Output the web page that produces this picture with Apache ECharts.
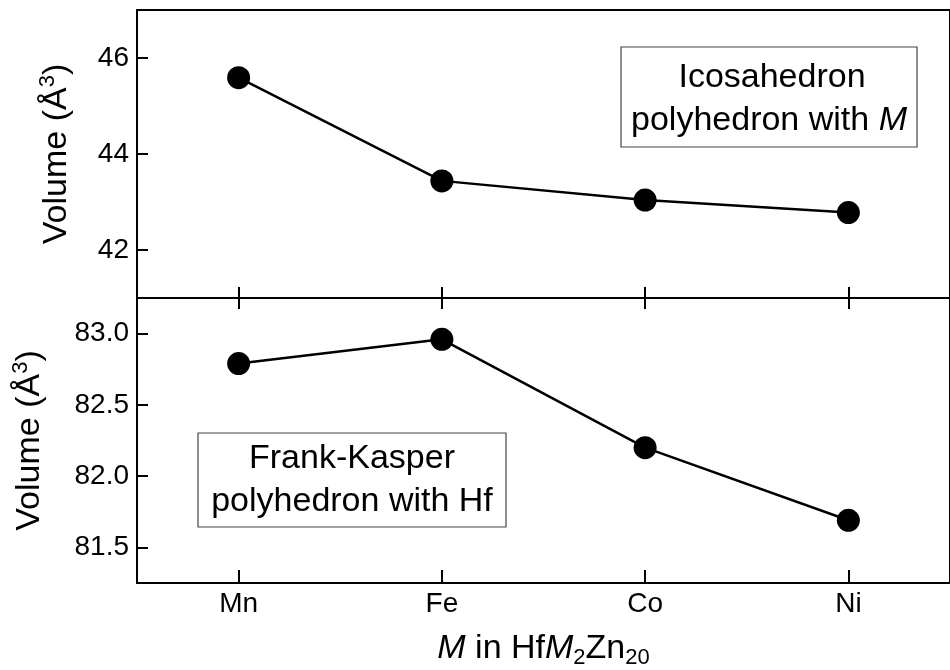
<!DOCTYPE html>
<html>
<head>
<meta charset="utf-8">
<script src="https://cdn.jsdelivr.net/npm/echarts@6/dist/echarts.min.js"></script>
<style>html,body{margin:0;padding:0;background:#fff}#c{width:950px;height:670px}</style>
</head>
<body>
<div id="c"></div>
<script>
const categories = ['Mn', 'Fe', 'Co', 'Ni'];
const icosaVolume = [45.59, 43.44, 43.04, 42.78];
const frankKasperVolume = [82.79, 82.96, 82.20, 81.69];
const topTicks = [42, 44, 46];
const bottomTicks = [81.5, 82.0, 82.5, 83.0];
const topRange = [41, 47];
const bottomRange = [81.25, 83.25];

const FONT = 'Liberation Sans, Arial, sans-serif';
const lineStyle = { color: '#000', width: 2 };

const chart = echarts.init(document.getElementById('c'), null, { renderer: 'canvas' });

function xAx(gridIndex, position, opts) {
  return Object.assign({
    type: 'category', data: categories, gridIndex, position,
    boundaryGap: true,
    axisLine: { show: true, onZero: false, lineStyle },
    axisTick: { show: false },
    axisLabel: { show: false },
    splitLine: { show: false }
  }, opts);
}

const yName = {
  color: '#000', fontSize: 34, fontFamily: FONT,
  rich: {
    n: { fontSize: 34, fontFamily: FONT, color: '#000' },
    sup: { fontSize: 22, fontFamily: FONT, color: '#000', padding: [0, 0, 18, 0] }
  }
};

const option = {
  animation: false,
  backgroundColor: '#fff',
  grid: [
    { left: 137, top: 10, width: 825, height: 288 },
    { left: 137, top: 298, width: 825, height: 289 }
  ],
  xAxis: [
    xAx(0, 'bottom', { axisTick: { show: true, inside: true, alignWithLabel: true, length: 11, lineStyle } }),
    xAx(0, 'top'),
    xAx(1, 'bottom', {
      axisTick: { show: true, inside: true, alignWithLabel: true, length: 13, lineStyle },
      axisLabel: { show: true, color: '#000', fontSize: 28, fontFamily: FONT, margin: 7 },
      name: '{i|M} in Hf{i|M}{sub|2}Zn{sub|20}',
      nameLocation: 'middle', nameGap: 46,
      nameTextStyle: {
        color: '#000', fontSize: 34, fontFamily: FONT,
        rich: {
          i: { fontStyle: 'italic', fontSize: 34, fontFamily: FONT, color: '#000' },
          sub: { fontSize: 22, fontFamily: FONT, color: '#000', padding: [18, 0, 0, 0] }
        }
      }
    }),
    xAx(1, 'top', { axisTick: { show: true, inside: true, alignWithLabel: true, length: 11, lineStyle } })
  ],
  yAxis: [
    {
      type: 'value', gridIndex: 0, position: 'left', min: topRange[0], max: topRange[1],
      axisLine: { show: true, onZero: false, lineStyle },
      axisTick: { show: true, inside: true, length: 11, lineStyle, customValues: topTicks },
      axisLabel: { color: '#000', fontSize: 28, fontFamily: FONT, margin: 8, customValues: topTicks },
      splitLine: { show: false },
      name: 'Volume (Å{sup|3})', nameLocation: 'middle', nameGap: 60,
      nameTextStyle: yName
    },
    {
      type: 'value', gridIndex: 0, position: 'right', min: topRange[0], max: topRange[1],
      axisLine: { show: true, onZero: false, lineStyle },
      axisTick: { show: false }, axisLabel: { show: false }, splitLine: { show: false }
    },
    {
      type: 'value', gridIndex: 1, position: 'left', min: bottomRange[0], max: bottomRange[1],
      axisLine: { show: true, onZero: false, lineStyle },
      axisTick: { show: true, inside: true, length: 11, lineStyle, customValues: bottomTicks },
      axisLabel: { color: '#000', fontSize: 28, fontFamily: FONT, margin: 8, customValues: bottomTicks,
        formatter: v => v.toFixed(1) },
      splitLine: { show: false },
      name: 'Volume (Å{sup|3})', nameLocation: 'middle', nameGap: 87,
      nameTextStyle: yName
    },
    {
      type: 'value', gridIndex: 1, position: 'right', min: bottomRange[0], max: bottomRange[1],
      axisLine: { show: true, onZero: false, lineStyle },
      axisTick: { show: false }, axisLabel: { show: false }, splitLine: { show: false }
    }
  ],
  series: [
    {
      type: 'line', xAxisIndex: 0, yAxisIndex: 0, data: icosaVolume,
      symbol: 'circle', symbolSize: 23,
      itemStyle: { color: '#000' }, lineStyle: { color: '#000', width: 2.5 }
    },
    {
      type: 'line', xAxisIndex: 2, yAxisIndex: 2, data: frankKasperVolume,
      symbol: 'circle', symbolSize: 23,
      itemStyle: { color: '#000' }, lineStyle: { color: '#000', width: 2.5 }
    }
  ],
  graphic: [
    {
      type: 'rect', shape: { x: 621, y: 47, width: 296, height: 100 },
      style: { fill: '#fff', stroke: '#444', lineWidth: 1.2 }, z: 10
    },
    {
      type: 'text', x: 772, y: 78, z: 11,
      style: { text: 'Icosahedron', fill: '#000', font: '34px ' + FONT, align: 'center', verticalAlign: 'middle' }
    },
    {
      type: 'text', x: 769, y: 121, z: 11,
      style: { text: '{n|polyhedron with }{i|M}', align: 'center', verticalAlign: 'middle',
        rich: { n: { fill: '#000', fontSize: 34, fontFamily: FONT }, i: { fill: '#000', fontSize: 34, fontFamily: FONT, fontStyle: 'italic' } } }
    },
    {
      type: 'rect', shape: { x: 198, y: 433, width: 308, height: 94 },
      style: { fill: '#fff', stroke: '#444', lineWidth: 1.2 }, z: 10
    },
    {
      type: 'text', x: 352, y: 459, z: 11,
      style: { text: 'Frank-Kasper', fill: '#000', font: '34px ' + FONT, align: 'center', verticalAlign: 'middle' }
    },
    {
      type: 'text', x: 352, y: 502, z: 11,
      style: { text: 'polyhedron with Hf', fill: '#000', font: '34px ' + FONT, align: 'center', verticalAlign: 'middle' }
    }
  ]
};
chart.setOption(option);
</script>
</body>
</html>
